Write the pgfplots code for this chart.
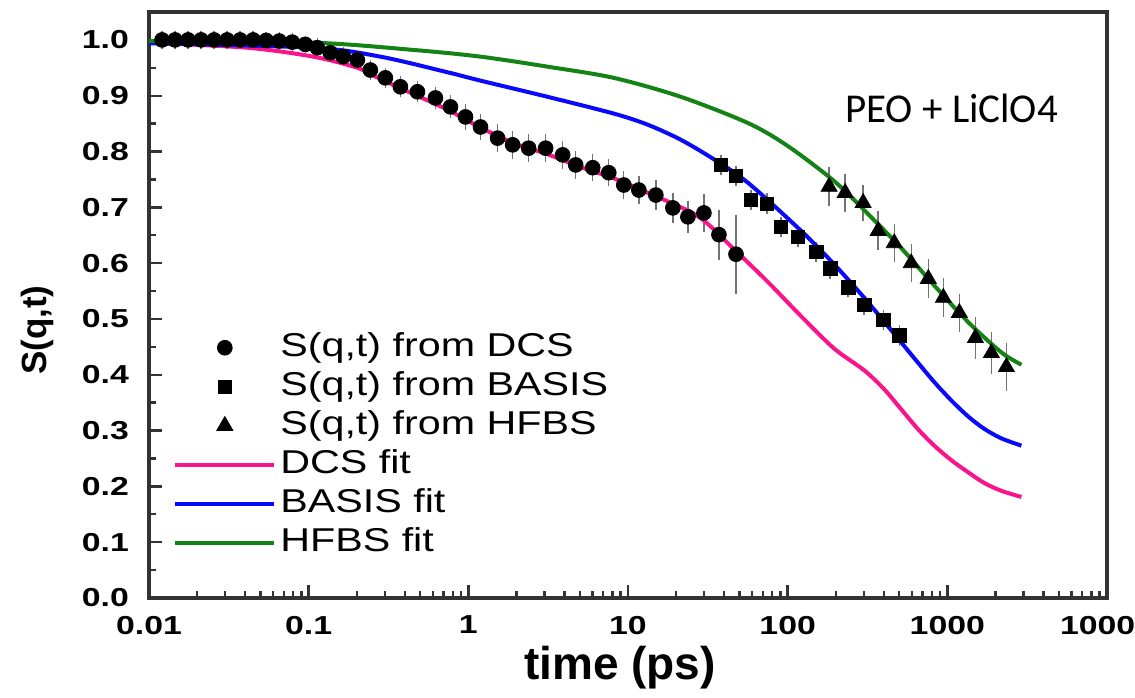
\documentclass[border=0pt]{standalone}
\usepackage{fontspec}
\setmainfont{Liberation Sans}
\newfontfamily\legfont[FakeStretch=1.25]{Liberation Sans}
\newfontfamily\tickfont[FakeStretch=1.3]{Liberation Sans}
\newfontfamily\calfont{Carlito}
\usepackage{pgfplots}
\usepackage{pgfplotstable}
\pgfplotsset{compat=1.18}

\definecolor{fitpink}{RGB}{250,20,140}
\definecolor{fitblue}{RGB}{10,10,250}
\definecolor{fitgreen}{RGB}{20,130,20}

\pgfplotsset{
  markleg/.style={legend image code/.code={\draw[mark repeat=2,mark phase=2,##1] plot coordinates {(0pt,0pt) (24.75pt,0pt) (49.5pt,0pt)};}},
  lineleg/.style={legend image code/.code={\draw[##1] (0pt,0pt) -- (49.5pt,0pt);}},
}

\pgfplotstableread{
t S e
0.01207 1.000 0.003
0.01456 1.000 0.003
0.01757 1.000 0.003
0.02120 1.000 0.003
0.02557 1.000 0.003
0.03086 1.000 0.003
0.03723 1.000 0.003
0.04491 1.000 0.003
0.05420 0.999 0.003
0.06540 0.998 0.003
0.07890 0.996 0.003
0.09521 0.992 0.003
0.1132 0.986 0.004
0.1366 0.977 0.004
0.1648 0.970 0.004
0.2018 0.964 0.004
0.2434 0.946 0.005
0.3022 0.932 0.005
0.3755 0.916 0.006
0.4801 0.907 0.006
0.6225 0.896 0.007
0.7731 0.880 0.008
0.9603 0.862 0.010
1.192 0.844 0.010
1.525 0.824 0.012
1.894 0.812 0.012
2.387 0.806 0.012
3.050 0.806 0.012
3.899 0.794 0.012
4.704 0.776 0.012
6.015 0.771 0.012
7.578 0.762 0.012
9.412 0.740 0.013
11.69 0.731 0.013
14.94 0.722 0.014
19.10 0.699 0.015
23.72 0.683 0.016
29.89 0.690 0.021
37.12 0.651 0.032
47.47 0.616 0.058
}\dcs

\pgfplotstableread{
t S e
38.2 0.776 0.006
47.5 0.756 0.006
58.9 0.713 0.006
74.2 0.7065 0.006
90.9 0.665 0.006
116.2 0.647 0.006
150.7 0.620 0.006
184.5 0.591 0.006
239.2 0.557 0.006
301.5 0.525 0.006
396.6 0.498 0.006
500 0.470 0.006
}\basis

\pgfplotstableread{
t S e
181.8 0.737 0.022
229 0.726 0.022
297 0.708 0.020
369 0.658 0.022
465 0.636 0.022
594 0.600 0.022
760 0.572 0.022
944 0.538 0.022
1189 0.511 0.022
1499 0.466 0.025
1888 0.439 0.025
2344 0.414 0.030
}\hfbs

\pgfplotstableread{
t S
0.01 0.995
0.0412 0.986
0.1069 0.970
0.2018 0.950
0.2812 0.930
0.4532 0.903
0.7406 0.875
1.192 0.843
1.921 0.815
3.14 0.795
5.057 0.772
8.145 0.752
13.31 0.726
27.41 0.684
46.10 0.625
75.34 0.566
121.3 0.505
195.4 0.447
301.5 0.408
402.6 0.374
514.4 0.338
657.7 0.302
828 0.273
1059 0.247
1354 0.225
1706 0.206
2182 0.192
2912 0.181
}\dcsfit

\pgfplotstableread{
t S
0.01 0.994
0.1069 0.986
0.2812 0.970
0.7406 0.942
1.192 0.927
3.14 0.898
8.145 0.868
13.31 0.848
21.44 0.821
34.54 0.786
56.43 0.744
121.3 0.658
195.4 0.598
301.5 0.538
402.6 0.495
514.4 0.458
657.7 0.421
828 0.387
1059 0.354
1354 0.325
1706 0.303
2182 0.286
2912 0.273
}\basisfit

\pgfplotstableread{
t S
0.01 0.998
0.1069 0.995
0.4532 0.982
1.192 0.970
3.14 0.952
8.145 0.932
21.44 0.898
56.43 0.851
100 0.810
195.4 0.747
319 0.688
514.4 0.627
828 0.560
1354 0.494
2182 0.440
2912 0.418
}\hfbsfit

\begin{document}
\begin{tikzpicture}
\begin{axis}[
  name=ax,
  scale only axis, width=479pt, height=293pt,
  xmode=log, xmin=0.01, xmax=10000, ymin=0, ymax=1.05,
  axis line style={draw=black!80, line width=1.6pt},
  tick style={draw=black!80, line width=1.2pt},
  major tick length=6.5pt, minor tick length=3.5pt,
  tick align=inside, xtick pos=bottom, ytick pos=left,
  xtick={0.01,0.1,1,10,100,1000,10000},
  xticklabels={0.01,0.1,1,10,100,1000,10000},
  minor xtick={0.02,0.03,0.04,0.05,0.06,0.07,0.08,0.09,
    0.2,0.3,0.4,0.5,0.6,0.7,0.8,0.9,
    2,3,4,5,6,7,8,9,
    20,30,40,50,60,70,80,90,
    200,300,400,500,600,700,800,900,
    2000,3000,4000,5000,6000,7000,8000,9000},
  ytick={0,0.1,0.2,0.3,0.4,0.5,0.6,0.7,0.8,0.9,1.0},
  yticklabels={0.0,0.1,0.2,0.3,0.4,0.5,0.6,0.7,0.8,0.9,1.0},
  minor ytick={0.05,0.15,0.25,0.35,0.45,0.55,0.65,0.75,0.85,0.95},
  ticklabel style={font=\tickfont\bfseries\fontsize{13}{13}\selectfont},
  xticklabel style={yshift=-5.5pt},
  yticklabel style={xshift=-6.5pt},
  xlabel={time (ps)},
  xlabel style={font=\bfseries\fontsize{23}{23}\selectfont, at={(axis description cs:0.4917,-0.119)}, anchor=center},
  ylabel={S(q,t)},
  ylabel style={font=\bfseries\fontsize{17.5}{17.5}\selectfont, at={(axis description cs:-0.116,0.457)}, anchor=center},
  legend style={at={(0.025,0.461)}, anchor=north west, draw=none, fill=none,
    font=\legfont\fontsize{16.5}{16.5}\selectfont, row sep=0pt, inner sep=0pt,
    nodes={inner sep=2pt, text height=12pt, text depth=3.5pt}},
  legend cell align=left,
]
\addplot[only marks, mark=*, mark size=3.7pt, black, markleg,
  error bars/.cd, y dir=both, y explicit,
  error bar style={black!55, line width=0.7pt},
  error mark options={black!55, line width=0.7pt, mark size=3.5pt}]
  table[x=t, y=S, y error=e]{\dcs};
\addlegendentry{S(q,t) from DCS}
\addplot[only marks, mark=square*, mark size=3.4pt, black, markleg,
  error bars/.cd, y dir=both, y explicit,
  error bar style={black!55, line width=0.7pt},
  error mark options={black!55, line width=0.7pt, mark size=3.5pt}]
  table[x=t, y=S, y error=e]{\basis};
\addlegendentry{S(q,t) from BASIS}
\addplot[only marks, mark=triangle*, mark size=4.6pt, black, markleg,
  error bars/.cd, y dir=both, y explicit,
  error bar style={black!55, line width=0.7pt},
  error mark options={black!55, line width=0.7pt, mark size=3.5pt}]
  table[x=t, y=S, y error=e]{\hfbs};
\addlegendentry{S(q,t) from HFBS}
\addplot[fitpink, line width=2pt, smooth, no marks, lineleg]
  table[x=t, y=S]{\dcsfit};
\addlegendentry{DCS fit}
\addplot[fitblue, line width=2pt, smooth, no marks, lineleg]
  table[x=t, y=S]{\basisfit};
\addlegendentry{BASIS fit}
\addplot[fitgreen, line width=2pt, smooth, no marks, lineleg]
  table[x=t, y=S]{\hfbsfit};
\addlegendentry{HFBS fit}
\node[anchor=base west, inner sep=0pt, font=\calfont\fontsize{20.5}{20.5}\selectfont]
  at (rel axis cs:0.7265,0.8106) {PEO + LiClO4};
\end{axis}
\pgfresetboundingbox
\path[use as bounding box] ([shift={(-74.5pt,-49.5pt)}]ax.south west) rectangle ([shift={(14pt,6pt)}]ax.north east);
\end{tikzpicture}
\end{document}
